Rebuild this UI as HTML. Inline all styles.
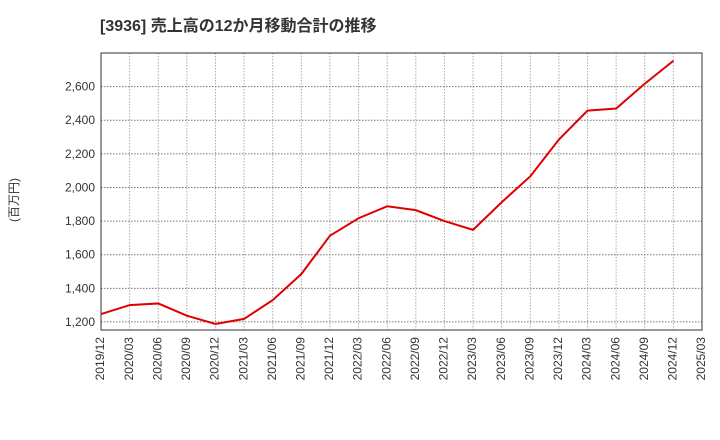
<!DOCTYPE html>
<html><head><meta charset="utf-8"><style>
body{margin:0;background:#fff;}
svg{display:block;font-family:"Liberation Sans","Noto Sans CJK JP",sans-serif;}
</style></head><body>
<svg id="chart" width="720" height="440">
<text x="100" y="31" font-size="16" font-weight="bold" fill="#333">[3936]  売上高の12か月移動合計の推移</text>
<text transform="translate(18,200) rotate(-90)" text-anchor="middle" font-size="12" fill="#333">(百万円)</text>
<g id="grid"></g><g id="axes"></g><g id="series"></g>
</svg>
<script>
const categories=["2019/12","2020/03","2020/06","2020/09","2020/12","2021/03","2021/06","2021/09","2021/12","2022/03","2022/06","2022/09","2022/12","2023/03","2023/06","2023/09","2023/12","2024/03","2024/06","2024/09","2024/12","2025/03"];
const values=[1247,1300,1310,1237,1188,1218,1330,1485,1713,1817,1888,1865,1800,1748,1912,2066,2285,2457,2470,2617,2754];
const yTicks=[1200,1400,1600,1800,2000,2200,2400,2600];
const NS="http://www.w3.org/2000/svg";
const L=101,R=702,T=53,B=330,yMin=1152,yMax=2800;
const x=i=>L+(R-L)*i/(categories.length-1);
const y=v=>B-(v-yMin)/(yMax-yMin)*(B-T);
function mk(tag,attrs,parent){const e=document.createElementNS(NS,tag);for(const k in attrs)e.setAttribute(k,attrs[k]);parent.appendChild(e);return e;}
const grid=document.getElementById('grid'),axes=document.getElementById('axes'),series=document.getElementById('series');
categories.forEach((c,i)=>{
 if(i>0&&i<categories.length-1){const g=mk('line',{x1:x(i),x2:x(i),y1:T,y2:B,stroke:'#aaa','stroke-dasharray':'1.5,1.5'},grid);
 
 }
 const tx=x(i),ty=B+7;
 const t=mk('text',{x:tx,y:ty,'font-size':12,fill:'#333','text-anchor':'end','dominant-baseline':'middle',transform:`rotate(-90 ${tx} ${ty})`},axes);
 t.textContent=c;
 
 
});
yTicks.forEach(v=>{
 const g=mk('line',{x1:L,x2:R,y1:y(v),y2:y(v),stroke:'#777','stroke-dasharray':'1.5,1.5'},grid);
 
 
 const t=mk('text',{x:L-6,y:y(v)+4,'font-size':12,fill:'#333','text-anchor':'end'},axes);
 t.textContent=v.toLocaleString('en-US');
 
 
});
const frame=mk('rect',{x:L,y:T,width:R-L,height:B-T,fill:'none',stroke:'#333','stroke-width':1},axes);


const line=mk('polyline',{points:values.map((v,i)=>x(i)+','+y(v)).join(' '),fill:'none',stroke:'#e00000','stroke-width':2},series);


</script>
</body></html>
